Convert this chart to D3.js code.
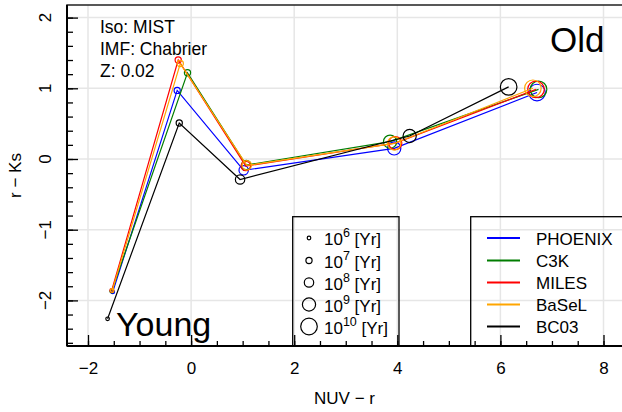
<!DOCTYPE html>
<html><head><meta charset="utf-8">
<script src="https://cdn.jsdelivr.net/npm/d3@7"></script>
<style>
body{margin:0;background:#fff;}
text{font-family:"Liberation Sans",Arial,Helvetica,sans-serif;fill:#000;}
</style></head>
<body>
<svg id="chart" width="622" height="412"></svg>
<script>
// ---- data ----
const libraries = ["PHOENIX","C3K","MILES","BaSeL","BC03"];
const ageExponents = ["6","7","8","9","10"];
const nuvR_PHOENIX = [-1.52, -0.27, 1.02, 3.94, 6.71];
const rKs_PHOENIX  = [-1.88,  0.97, -0.16, 0.15, 0.94];
const nuvR_C3K     = [-1.54, -0.07, 1.07, 3.86, 6.74];
const rKs_C3K      = [-1.87,  1.22, -0.085, 0.245, 0.985];
const nuvR_MILES   = [-1.54, -0.25, 1.06, 3.96, 6.69];
const rKs_MILES    = [-1.86,  1.40, -0.10, 0.225, 0.985];
const nuvR_BaSeL   = [-1.53, -0.21, 1.08, 3.94, 6.63];
const rKs_BaSeL    = [-1.86,  1.35, -0.09, 0.22, 1.00];
const nuvR_BC03    = [-1.62, -0.23, 0.95, 4.24, 6.16];
const rKs_BC03     = [-2.26,  0.51, -0.29, 0.325, 1.02];
const xTicks = [-2, 0, 2, 4, 6, 8];
const yTicks = [-2, -1, 0, 1, 2];
const annotation = ["Iso: MIST", "IMF: Chabrier", "Z: 0.02"];

// ---- style ----
const colors = {PHOENIX:"#0000ff", C3K:"#007d00", MILES:"#ff0000", BaSeL:"#ffa500", BC03:"#000000"};
const radii = [1.8, 3.1, 4.7, 6.6, 8.3];
const seriesX = {PHOENIX:nuvR_PHOENIX, C3K:nuvR_C3K, MILES:nuvR_MILES, BaSeL:nuvR_BaSeL, BC03:nuvR_BC03};
const seriesY = {PHOENIX:rKs_PHOENIX, C3K:rKs_C3K, MILES:rKs_MILES, BaSeL:rKs_BaSeL, BC03:rKs_BC03};

const svg = d3.select("#chart");
const L = 67, R = 622, T = 5, B = 346;
const x = d3.scaleLinear().domain([-2, 8]).range([88, 603.5]);
const y = d3.scaleLinear().domain([-2, 2]).range([300.4, 17.6]);

// grid
const grid = svg.append("g").attr("stroke", "#e6e6e6").attr("stroke-width", 1.5);
grid.selectAll("line.gx").data(xTicks).join("line")
  .attr("x1", d => x(d)).attr("x2", d => x(d)).attr("y1", T).attr("y2", B);
grid.selectAll("line.gy").data(yTicks).join("line")
  .attr("y1", d => y(d)).attr("y2", d => y(d)).attr("x1", L).attr("x2", R);

// frame
svg.append("rect").attr("x", L).attr("y", T).attr("width", R - L + 2).attr("height", B - T)
  .attr("fill", "none").attr("stroke", "#222").attr("stroke-width", 1.5);

// axes
const xMinor = d3.range(-2.5, 8.51, 0.5).filter(v => v > -2.42);
const yMinor = d3.range(-2.6, 2.21, 0.2).map(v => Math.round(v * 10) / 10).filter(v => v > -2.66 && v < 2.18);

svg.append("g").attr("transform", `translate(0,${B})`)
  .call(d3.axisBottom(x).tickValues(xMinor).tickSize(-5).tickFormat(""))
  .call(g => { g.select(".domain").remove(); g.selectAll("line").attr("stroke-width", 1.3); });
svg.append("g").attr("transform", `translate(0,${B})`)
  .call(d3.axisBottom(x).tickValues(xTicks).tickSize(-11).tickPadding(16).tickFormat(d => d < 0 ? "\u2212" + Math.abs(d) : d))
  .call(g => { g.select(".domain").remove(); g.selectAll("line").attr("stroke-width", 1.3);
               g.selectAll("text").attr("font-size", 17).attr("font-family", "Liberation Sans, Arial, sans-serif"); });

const yAx = svg.append("g").attr("transform", `translate(${L},0)`);
yAx.call(d3.axisLeft(y).tickValues(yMinor).tickSize(-6).tickFormat(""))
  .call(g => { g.select(".domain").remove(); g.selectAll("line").attr("stroke-width", 1.3); });
yAx.append("g").call(d3.axisLeft(y).tickValues(yTicks).tickSize(-11).tickFormat(""))
  .call(g => { g.select(".domain").remove(); g.selectAll("line").attr("stroke-width", 1.3); });

svg.selectAll("text.ylab").data(yTicks).join("text").attr("class", "ylab")
  .attr("transform", d => `translate(51,${y(d)}) rotate(-90)`)
  .attr("text-anchor", "middle").attr("font-size", 17)
  .text(d => d < 0 ? "\u2212" + Math.abs(d) : d);

// axis lines (thick)
svg.append("line").attr("x1", L).attr("x2", R + 2).attr("y1", B).attr("y2", B).attr("stroke", "#000").attr("stroke-width", 2);
svg.append("line").attr("x1", L).attr("x2", L).attr("y1", T).attr("y2", B).attr("stroke", "#000").attr("stroke-width", 2);

// axis titles
svg.append("text").attr("x", (L + R) / 2).attr("y", 404).attr("text-anchor", "middle").attr("font-size", 17).text("NUV \u2212 r");
svg.append("text").attr("transform", `translate(21,${(T + B) / 2}) rotate(-90)`).attr("text-anchor", "middle").attr("font-size", 17).text("r \u2212 Ks");

// series
libraries.forEach(lib => {
  const pts = seriesX[lib].map((v, i) => [v, seriesY[lib][i], i]);
  svg.append("path").datum(pts)
    .attr("d", d3.line().x(d => x(d[0])).y(d => y(d[1])))
    .attr("fill", "none").attr("stroke", colors[lib]).attr("stroke-width", 1.2);
  svg.append("g").selectAll("circle").data(pts).join("circle")
    .attr("cx", d => x(d[0])).attr("cy", d => y(d[1])).attr("r", d => radii[d[2]])
    .attr("fill", "none").attr("stroke", colors[lib]).attr("stroke-width", 1.2);
});

// annotations
annotation.forEach((t, i) => {
  svg.append("text").attr("x", 100).attr("y", 33 + i * 21.8).attr("font-size", 17.5).text(t);
});
svg.append("text").attr("x", 550).attr("y", 52).attr("font-size", 35).text("Old");
svg.append("text").attr("x", 116).attr("y", 336).attr("font-size", 34).text("Young");

// legend: sizes
const rowY = [238, 260.5, 282.5, 304.5, 326.5];
svg.append("rect").attr("x", 292.7).attr("y", 216.7).attr("width", 106.3).attr("height", B - 216.7)
  .attr("fill", "none").attr("stroke", "#000").attr("stroke-width", 1.3);
ageExponents.forEach((e, i) => {
  svg.append("circle").attr("cx", 309).attr("cy", rowY[i]).attr("r", radii[i])
    .attr("fill", "none").attr("stroke", "#000").attr("stroke-width", 1.2);
  const t = svg.append("text").attr("x", 324).attr("y", rowY[i] + 7).attr("font-size", 17);
  t.append("tspan").text("10");
  t.append("tspan").attr("dy", -8).attr("font-size", 12.5).text(e);
  t.append("tspan").attr("dy", 8).text(" [Yr]");
});

// legend: libraries
svg.append("rect").attr("x", 470.7).attr("y", 216.7).attr("width", 160).attr("height", B - 216.7)
  .attr("fill", "none").attr("stroke", "#000").attr("stroke-width", 1.3);
libraries.forEach((lib, i) => {
  svg.append("line").attr("x1", 487).attr("x2", 520).attr("y1", rowY[i]).attr("y2", rowY[i])
    .attr("stroke", colors[lib]).attr("stroke-width", 2);
  svg.append("text").attr("x", 536).attr("y", rowY[i] + 6.5).attr("font-size", 17).text(lib);
});
</script>
</body></html>
